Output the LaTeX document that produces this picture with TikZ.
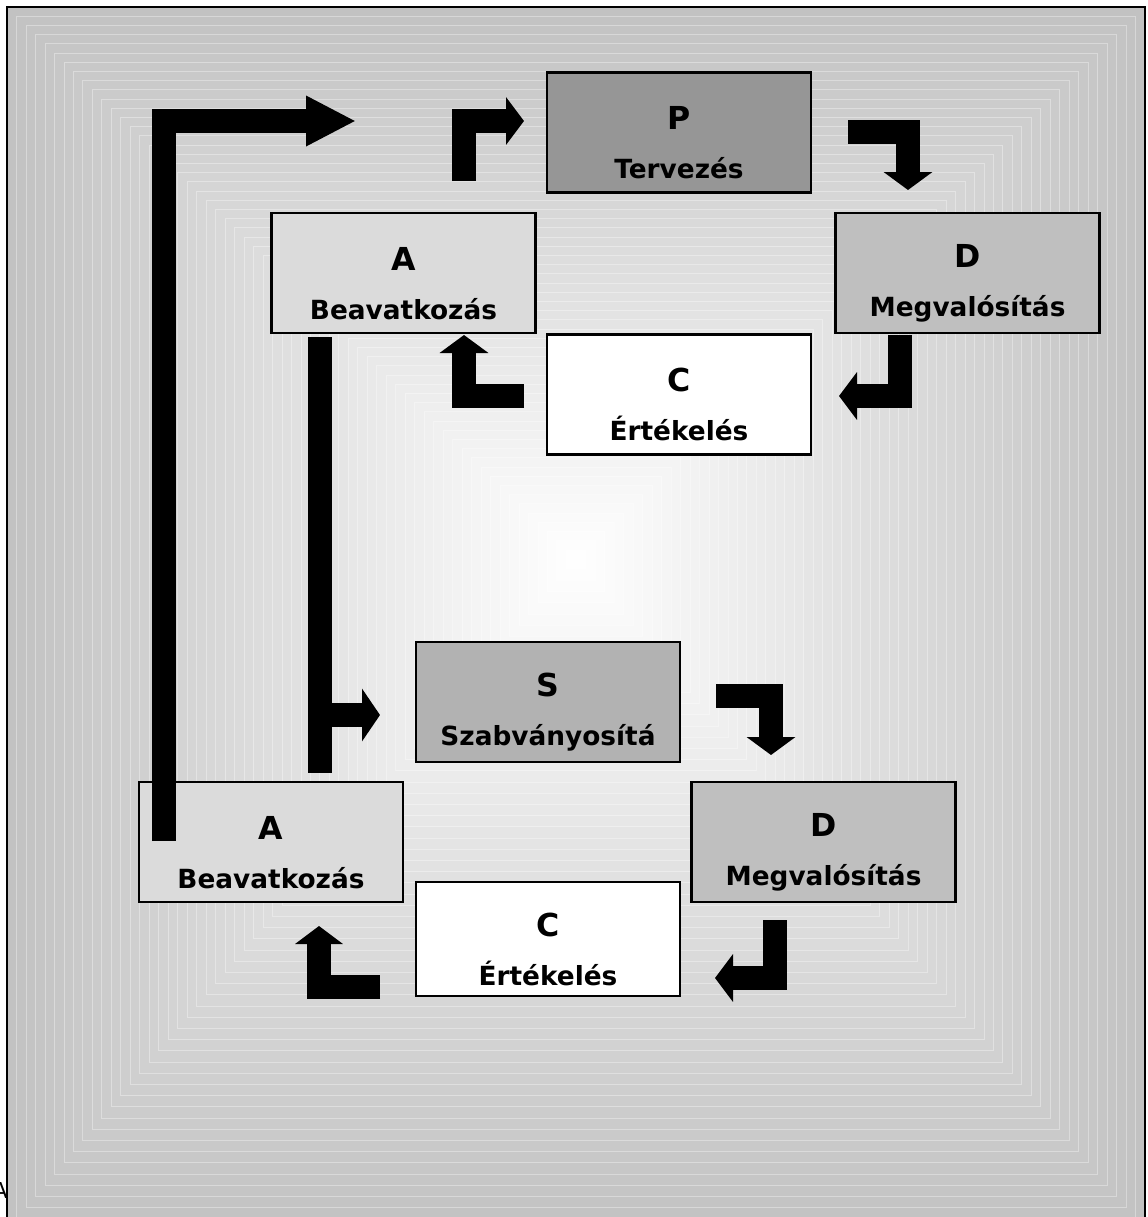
\documentclass[tikz,border=0pt]{standalone}
\usepackage{fontspec}
\setmainfont{DejaVu Sans}
\usetikzlibrary{arrows.meta}
\tikzset{
  phase/.style={draw,line width=1.6pt,minimum width=5.28cm,minimum height=2.4cm,
    align=center,inner sep=0pt,font=\fontsize{15}{18}\selectfont\bfseries},
  bent/.style={line width=0.48cm},
  headtip/.style={-{Triangle[width=#1,length=0.36cm]}}
}
\newcommand{\letter}[1]{\rule{0pt}{25pt}{\fontsize{18}{18}\selectfont #1}}
\begin{document}
\begin{tikzpicture}[x=0.02cm,y=-0.02cm]
\useasboundingbox (0,0) rectangle (1148,1217);
\foreach \i [evaluate=\i as \c using {24*(1-\i/60)}] in {0,...,59}
  \filldraw[fill=black!\c,draw=white,draw opacity=0.35,line width=0.4pt]
    ({7+\i*9.48},{7+\i*9.2}) rectangle ({1145-\i*9.48},{1230-\i*11.2});
\draw[line width=1.5pt] (7,1240) -- (7,7) -- (1145,7) -- (1145,1240);
\node[anchor=base east,inner sep=0pt,font=\fontsize{12.5}{15}\selectfont] (cut) at (8,1198) {A};

\node[phase,fill=black!41] (plan) at (679,132.5) {\letter{P}\\[10pt]Tervezés};
\node[phase,fill=black!14] (act) at (403.5,273) {\letter{A}\\[10pt]Beavatkozás};
\node[phase,fill=black!25] (do) at (967.5,273) {\letter{D}\\[10pt]Megvalósítás};
\node[phase,fill=white] (check) at (679,394.5) {\letter{C}\\[10pt]Értékelés};
\node[phase,fill=black!30] (std) at (548,702) {\letter{S}\\[10pt]Szabványosítá};
\node[phase,fill=black!14] (act2) at (271,842) {\letter{A}\\[10pt]Beavatkozás};
\node[phase,fill=black!25] (do2) at (823.5,842) {\letter{D}\\[10pt]Megvalósítás};
\node[phase,fill=white,minimum height=2.28cm] (check2) at (548,939) {\letter{C}\\[10pt]Értékelés};

\draw[bent,-{Triangle[width=0.94cm,length=1cm]}] (164,841) |- (356,121);
\draw[bent,headtip=0.94cm] (464,181) |- (524,121);
\draw[bent,headtip=0.96cm] (848,132) -| (908,190);
\draw[bent,headtip=0.94cm] (900,335) |- (839,396);
\draw[bent,headtip=0.96cm] (524,396) -| (464,335);
\draw[bent] (320,337) -- (320,773);
\draw[bent,headtip=1.04cm] (320,715) -- (380,715);
\draw[bent,headtip=0.96cm] (716,696) -| (771,755);
\draw[bent,headtip=0.94cm] (775,920) |- (715,978);
\draw[bent,headtip=0.94cm] (380,987) -| (319,926);
\end{tikzpicture}
\end{document}
